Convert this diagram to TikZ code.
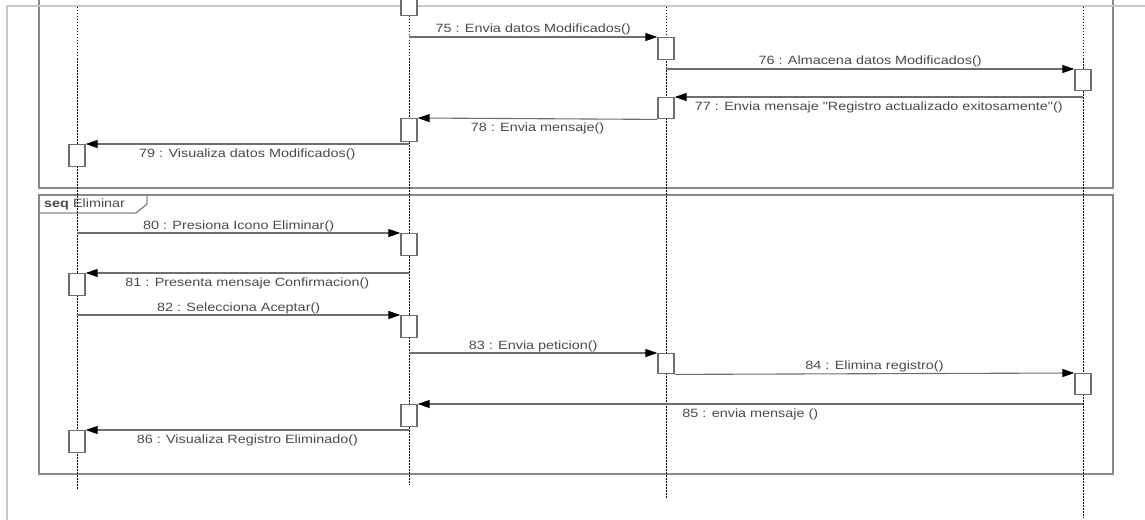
\documentclass[tikz,border=0pt]{standalone}
\usepackage{fontspec}
\setmainfont{Liberation Sans}[FakeStretch=1.2, Ligatures=TeXOff]
\usetikzlibrary{arrows.meta}
\definecolor{txt}{HTML}{4A4A4A}
\definecolor{ln}{HTML}{6E6E6E}
\definecolor{fr}{HTML}{888888}
\definecolor{outer}{HTML}{C8C8C8}
\tikzset{
  outerline/.style={draw=outer, line width=2pt},
  frameline/.style={draw=fr, line width=1.4pt},
  lifeline/.style={draw=black, line width=0.8pt, dash pattern=on 1.5pt off 1.5pt},
  actbox/.style={draw=ln, fill=white, line width=1.4pt, minimum width=16pt,
    minimum height=22pt, inner sep=0pt, anchor=north},
  msg/.style={draw=ln, line width=1.1pt, -{Triangle[length=12pt,width=8pt,black]}},
  lbl/.style={midway, anchor=base, text=txt, inner sep=0pt,
    font=\fontsize{12}{14}\selectfont},
  lblabove/.style={lbl, yshift=4pt},
  lblbelow/.style={lbl, yshift=-13pt},
}
\begin{document}
\begin{tikzpicture}[x=1pt, y=-1pt]
\useasboundingbox (0,0) rectangle (1145,519);

% combined fragments
\draw[frameline] (39,-5) -- (39,188) -- (1113,188) -- (1113,-5);
\draw[frameline] (39,195) rectangle (1113,474);
\draw[frameline] (39,213) -- (136,213) -- (147,204) -- (147,195);
\node[anchor=base west, inner sep=0pt, text=txt, font=\fontsize{12}{14}\selectfont]
  (tag) at (44,207) {\textbf{seq} Eliminar};

% outer border
\draw[outerline] (7,525) -- (7,6) -- (1150,6);

% lifelines
\coordinate (L1t) at (77,7);   \coordinate (L1b) at (77,490);
\coordinate (L2t) at (409,7);  \coordinate (L2b) at (409,485);
\coordinate (L3t) at (666,7);  \coordinate (L3b) at (666,499);
\coordinate (L4t) at (1083,7); \coordinate (L4b) at (1083,518);
\foreach \l in {L1,L2,L3,L4} \draw[lifeline] (\l t) -- (\l b);

% activation boxes
\node[actbox, minimum height=24pt] (b74) at (409,-9) {};
\node[actbox] (b75) at (666,37) {};
\node[actbox, minimum height=21pt] (b76) at (1083,69) {};
\node[actbox, minimum height=21pt] (b77) at (666,97) {};
\node[actbox, minimum height=23pt] (b78) at (409,118) {};
\node[actbox] (b79) at (77,144) {};
\node[actbox] (b80) at (409,233) {};
\node[actbox] (b81) at (77,273) {};
\node[actbox] (b82) at (409,315) {};
\node[actbox, minimum height=20pt] (b83) at (666,353) {};
\node[actbox, minimum height=21pt] (b84) at (1083,373) {};
\node[actbox] (b85) at (409,404) {};
\node[actbox] (b86) at (77,430) {};

% messages
\draw[msg] (L2t |- b75.north) -- (b75.north west)
  node[lblabove] {75 : Envia datos Modificados()};
\draw[msg] (L3t |- b76.north) -- (b76.north west)
  node[lblabove] {76 : Almacena datos Modificados()};
\draw[msg] (L4t |- b77.north) -- (b77.north east)
  node[lblbelow] {77 : Envia mensaje "Registro actualizado exitosamente"()};
\draw[msg] (b77.south west) -- (b78.north east)
  node[lblbelow] {78 : Envia mensaje()};
\draw[msg] (L2t |- b79.north) -- (b79.north east)
  node[lblbelow] {79 : Visualiza datos Modificados()};
\draw[msg] (L1t |- b80.north) -- (b80.north west)
  node[lblabove] {80 : Presiona Icono Eliminar()};
\draw[msg] (L2t |- b81.north) -- (b81.north east)
  node[lblbelow] {81 : Presenta mensaje Confirmacion()};
\draw[msg] (L1t |- b82.north) -- (b82.north west)
  node[lblabove] {82 : Selecciona Aceptar()};
\draw[msg] (L2t |- b83.north) -- (b83.north west)
  node[lblabove] {83 : Envia peticion()};
\draw[msg] (b83.south east) -- (b84.north west)
  node[lblabove] {84 : Elimina registro()};
\draw[msg] (L4t |- b85.north) -- (b85.north east)
  node[lblbelow] {85 : envia mensaje ()};
\draw[msg] (L2t |- b86.north) -- (b86.north east)
  node[lblbelow] {86 : Visualiza Registro Eliminado()};
\end{tikzpicture}
\end{document}
